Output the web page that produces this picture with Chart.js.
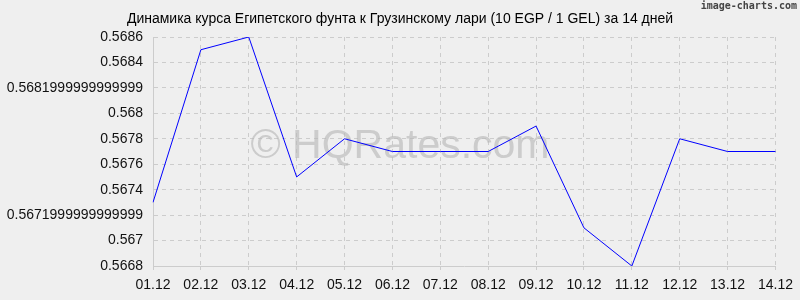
<!DOCTYPE html>
<html>
<head>
<meta charset="utf-8">
<style>
  html, body { margin: 0; padding: 0; background: #efefef; }
  #wrap { width: 800px; height: 300px; }
</style>
<script src="https://cdn.jsdelivr.net/npm/chart.js@4"></script>
</head>
<body>
<div id="wrap"><canvas id="myChart" width="800" height="300"></canvas></div>
<script>
// data
const days = ["01.12", "02.12", "03.12", "04.12", "05.12", "06.12", "07.12",
              "08.12", "09.12", "10.12", "11.12", "12.12", "13.12", "14.12"];
const rates = [0.5673, 0.5685, 0.5686, 0.5675, 0.5678, 0.5677, 0.5677,
               0.5677, 0.5679, 0.5671, 0.5668, 0.5678, 0.5677, 0.5677];
// tick labels as printed (bottom to top), floating point noise included
const yTicks = ["0.5668", "0.567", "0.5671999999999999", "0.5674", "0.5676",
                "0.5678", "0.568", "0.5681999999999999", "0.5684", "0.5686"];
const yMin = 0.5668;
const yMax = 0.5686;

const titleText = "Динамика курса Египетского фунта к Грузинскому лари (10 EGP / 1 GEL) за 14 дней";

const FONT = "'Liberation Sans', Arial, sans-serif";

const extras = {
    id: "extras",
    beforeDraw(chart) {
        const ctx = chart.ctx;
        ctx.save();
        ctx.fillStyle = "#efefef";
        ctx.fillRect(0, 0, chart.width, chart.height);
        ctx.restore();
    },
    beforeDatasetsDraw(chart) {
        const ctx = chart.ctx;
        ctx.save();
        // watermark
        ctx.font = "41px " + FONT;
        ctx.fillStyle = "rgba(185,185,185,0.65)";
        ctx.textAlign = "center";
        ctx.textBaseline = "middle";
        ctx.fillText("© HQRates.com", 400, 147);
        ctx.restore();
    },
    afterDraw(chart) {
        const ctx = chart.ctx;
        ctx.save();
        ctx.fillStyle = "#000";
        ctx.font = "14px " + FONT;
        ctx.textAlign = "center";
        ctx.textBaseline = "middle";
        ctx.fillText(titleText, 400, 19);
        ctx.font = "bold 10px 'DejaVu Sans Mono', monospace";
        ctx.fillStyle = "#444";
        ctx.textAlign = "right";
        ctx.fillText("image-charts.com", 797, 6);
        ctx.restore();
    }
};

new Chart("myChart", {
    type: "line",
    data: {
        labels: days,
        datasets: [{
            data: rates,
            borderColor: "#0000ff",
            borderWidth: 1,
            pointRadius: 0,
            tension: 0,
            fill: false
        }]
    },
    options: {
        responsive: false,
        animation: false,
        layout: { padding: { top: 37, right: 21, left: 0, bottom: 0 } },
        plugins: {
            legend: { display: false },
            title: { display: false },
            tooltip: { enabled: false }
        },
        scales: {
            x: {
                offset: false,
                grid: {
                    color: "#cccccc",
                    tickLength: 4,
                    tickColor: "#cccccc"
                },
                border: { display: true, color: "#cccccc", dash: [4, 4] },
                ticks: {
                    color: "#111",
                    font: { family: FONT, size: 14 },
                    maxRotation: 0,
                    autoSkip: false,
                    padding: 7
                },
                afterFit(scale) { scale.height = 34; }
            },
            y: {
                min: yMin,
                max: yMax,
                grid: {
                    color: "#cccccc",
                    drawTicks: false
                },
                border: { display: true, color: "#cccccc", dash: [4, 4] },
                ticks: {
                    stepSize: 0.0002,
                    color: "#111",
                    font: { family: FONT, size: 14 },
                    padding: 10,
                    callback: (v, i) => yTicks[i]
                },
                afterFit(scale) { scale.width = 153; }
            }
        }
    },
    plugins: [extras]
});
</script>
</body>
</html>
